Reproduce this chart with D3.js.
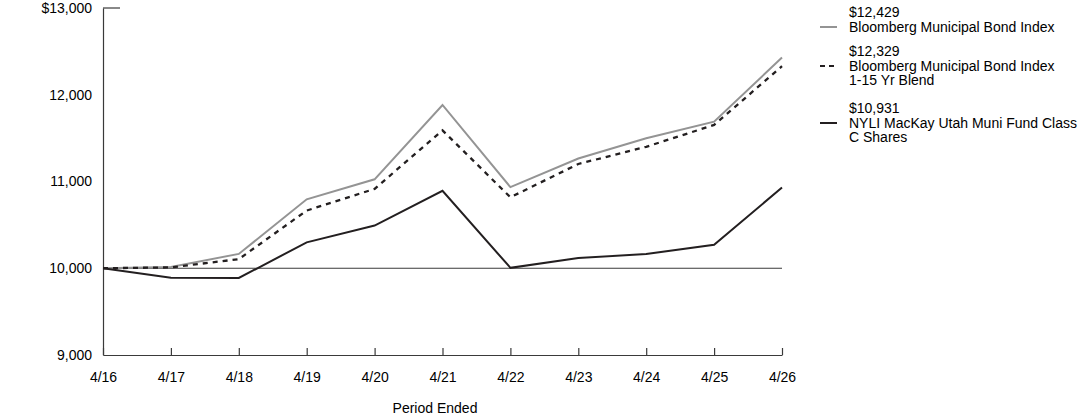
<!DOCTYPE html>
<html><head><meta charset="utf-8">
<script src="https://cdn.jsdelivr.net/npm/d3@7"></script>
<style>body{margin:0;background:#fff;}svg{display:block;font-family:"Liberation Sans",Arial,sans-serif;}</style>
</head><body><svg id="c" width="1092" height="417"></svg>
<script>
const periods = ["4/16","4/17","4/18","4/19","4/20","4/21","4/22","4/23","4/24","4/25","4/26"];
const muniIndex = [10000,10015,10165,10795,11025,11882,10935,11265,11498,11690,12429];
const blendIndex = [10000,10010,10105,10665,10915,11590,10818,11202,11400,11652,12329];
const fundC = [10000,9890,9888,10298,10492,10893,10005,10118,10163,10270,10931];
const yTicks = [9000,10000,11000,12000,13000];
const seriesNames = ["Bloomberg Municipal Bond Index","Bloomberg Municipal Bond Index 1-15 Yr Blend","NYLI MacKay Utah Muni Fund Class C Shares"];

const FS = 14;
const svg = d3.select("#c");
const x = d3.scalePoint().domain(periods).range([103,782]);
const y = d3.scaleLinear().domain([9000,13000]).range([355,8]);
const dark = "#231f20", gray = "#949494", axisC = "#3a3a3a";

// baseline at 10,000
svg.append("line").attr("x1",103).attr("x2",782).attr("y1",y(10000)).attr("y2",y(10000))
  .attr("stroke",axisC).attr("stroke-width",1.2);

// y axis
const ya = svg.append("g").attr("transform","translate(103,0)")
  .call(d3.axisLeft(y).tickValues(yTicks).tickSize(0).tickPadding(11)
    .tickFormat(d => d===13000 ? "$13,000" : d3.format(",")(d)));
ya.select(".domain").attr("stroke",axisC).attr("stroke-width",1.2);
ya.selectAll("text").attr("font-size",FS).attr("fill","#000").attr("font-family","Liberation Sans, Arial");
svg.append("line").attr("x1",103).attr("x2",120).attr("y1",y(13000)).attr("y2",y(13000)).attr("stroke",axisC).attr("stroke-width",1.2);

// x axis
const xa = svg.append("g").attr("transform","translate(0,355)")
  .call(d3.axisBottom(x).tickSize(0).tickPadding(17));
xa.select(".domain").attr("stroke",axisC).attr("stroke-width",1.2);
xa.selectAll("text").attr("font-size",FS).attr("fill","#000").attr("font-family","Liberation Sans, Arial");
xa.selectAll(".tick").append("line").attr("y1",0).attr("y2",-7).attr("stroke",axisC).attr("stroke-width",1.2);

svg.append("text").attr("x",435).attr("y",413).attr("text-anchor","middle").attr("font-size",FS).text("Period Ended");

const line = d3.line().x((d,i)=>x(periods[i])).y(d=>y(d));
const series = [
  {v:muniIndex, c:gray, dash:null, w:2},
  {v:blendIndex, c:dark, dash:"5,5", w:2.3},
  {v:fundC, c:dark, dash:null, w:2}
];
series.forEach(s=>{
  svg.append("path").datum(s.v).attr("d",line).attr("fill","none")
    .attr("stroke",s.c).attr("stroke-width",s.w).attr("stroke-dasharray",s.dash)
    .attr("stroke-linejoin","miter");
});

// legend
const legend = [
  {val:muniIndex[10], lines:["Bloomberg Municipal Bond Index"], c:gray, dash:null, top:17},
  {val:blendIndex[10], lines:["Bloomberg Municipal Bond Index","1-15 Yr Blend"], c:dark, dash:"5,5", top:56},
  {val:fundC[10], lines:["NYLI MacKay Utah Muni Fund Class","C Shares"], c:dark, dash:null, top:113}
];
legend.forEach(l=>{
  const g = svg.append("g");
  g.append("text").attr("x",849).attr("y",l.top).attr("font-size",FS).text("$"+d3.format(",")(l.val));
  l.lines.forEach((t,i)=>g.append("text").attr("x",849).attr("y",l.top+14.5*(i+1)).attr("font-size",FS).text(t));
  g.append("line").attr("x1",820).attr("x2",837).attr("y1",l.top+10).attr("y2",l.top+10)
    .attr("stroke",l.c).attr("stroke-width",2).attr("stroke-dasharray",l.dash?"5,4":null);
});
</script></body></html>
